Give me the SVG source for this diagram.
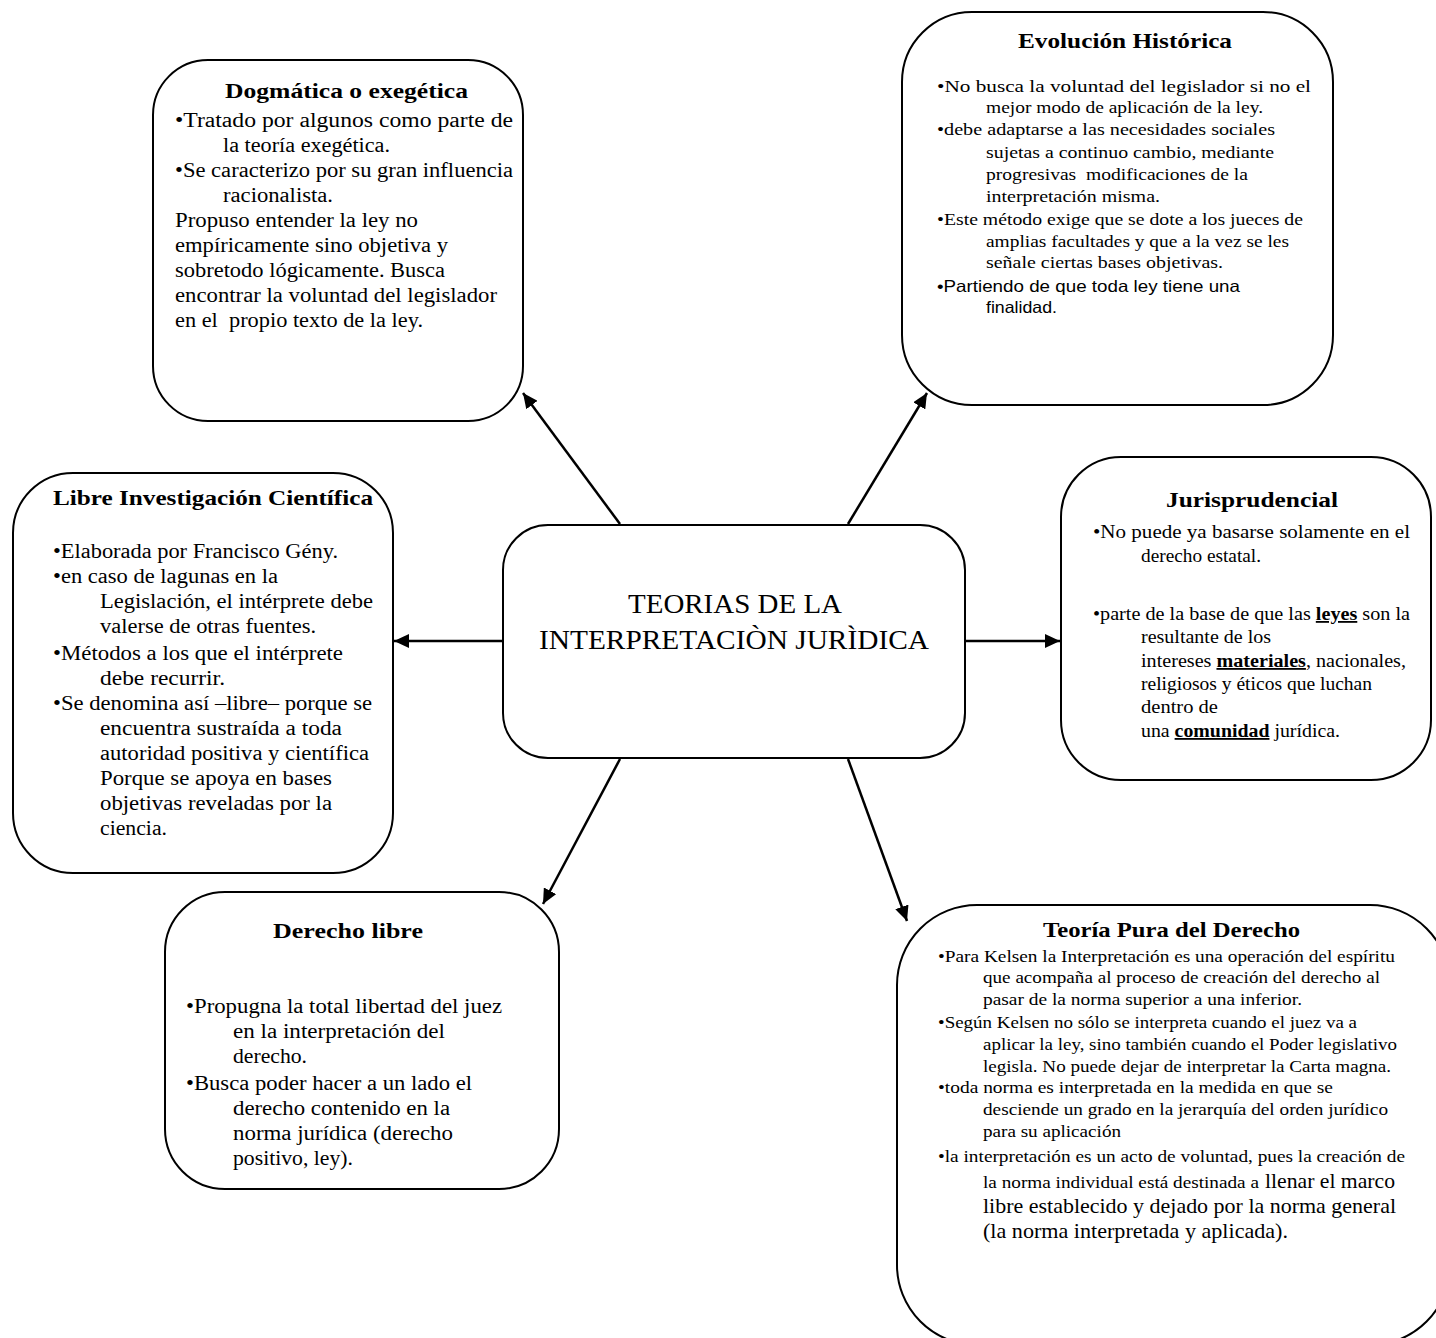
<svg xmlns="http://www.w3.org/2000/svg" width="1436" height="1338" viewBox="0 0 1436 1338">
<style>
.box{fill:#fff;stroke:#000;stroke-width:2}
.t{font-family:"Liberation Serif","Times New Roman",serif;fill:#000}
.h{font-weight:bold;font-size:22px}
.b19{font-size:20px}
.b17{font-size:18px}
.b16{font-size:17.5px}
.s{font-family:"Liberation Sans",Arial,sans-serif;font-size:16.5px;fill:#000}
.c{font-size:28px}
.u{font-weight:bold;text-decoration:underline}
.arr{stroke:#000;stroke-width:2.5;fill:none;marker-end:url(#ah)}
</style>
<defs>
<marker id="ah" markerUnits="userSpaceOnUse" markerWidth="16" markerHeight="14" refX="15" refY="7" orient="auto">
<path d="M0,0 L15,7 L0,14 z" fill="#000"/>
</marker>
</defs>
<rect width="1436" height="1338" fill="#fff"/>

<g id="connectors">
<line class="arr" x1="620" y1="524" x2="523" y2="393"/>
<line class="arr" x1="848" y1="524" x2="927" y2="393"/>
<line class="arr" x1="503" y1="641" x2="394" y2="641"/>
<line class="arr" x1="965" y1="641" x2="1060" y2="641"/>
<line class="arr" x1="620" y1="759" x2="543" y2="904"/>
<line class="arr" x1="848" y1="759" x2="907" y2="921"/>
</g>

<g id="center">
<rect class="box" x="503" y="525" width="462" height="233" rx="45"/>
<text class="t c" x="628" y="613" textLength="214" lengthAdjust="spacingAndGlyphs">TEORIAS DE LA</text>
<text class="t c" x="539" y="649" textLength="390" lengthAdjust="spacingAndGlyphs">INTERPRETACIÒN JURÌDICA</text>
</g>

<g id="dogmatica">
<rect class="box" x="153" y="60" width="370" height="361" rx="55"/>
<text class="t h" x="225" y="98" textLength="243" lengthAdjust="spacingAndGlyphs">Dogmática o exegética</text>
<g class="t b19">
<text x="175" y="127" textLength="338" lengthAdjust="spacingAndGlyphs">•Tratado por algunos como parte de</text>
<text x="223" y="152" textLength="167" lengthAdjust="spacingAndGlyphs">la teoría exegética.</text>
<text x="175" y="177" textLength="338" lengthAdjust="spacingAndGlyphs">•Se caracterizo por su gran influencia</text>
<text x="223" y="202" textLength="110" lengthAdjust="spacingAndGlyphs">racionalista.</text>
<text x="175" y="227" textLength="243" lengthAdjust="spacingAndGlyphs">Propuso entender la ley no</text>
<text x="175" y="252" textLength="273" lengthAdjust="spacingAndGlyphs">empíricamente sino objetiva y</text>
<text x="175" y="277" textLength="270" lengthAdjust="spacingAndGlyphs">sobretodo lógicamente. Busca</text>
<text x="175" y="302" textLength="322" lengthAdjust="spacingAndGlyphs">encontrar la voluntad del legislador</text>
<text x="175" y="327" textLength="248" lengthAdjust="spacingAndGlyphs">en el &#160;propio texto de la ley.</text>
</g>
</g>

<g id="evolucion">
<rect class="box" x="902" y="12" width="431" height="393" rx="70"/>
<text class="t h" x="1018" y="48" textLength="214" lengthAdjust="spacingAndGlyphs">Evolución Histórica</text>
<g class="t b16">
<text x="937" y="92" textLength="374" lengthAdjust="spacingAndGlyphs">•No busca la voluntad del legislador si no el</text>
<text x="986" y="113" textLength="277" lengthAdjust="spacingAndGlyphs">mejor modo de aplicación de la ley.</text>
<text x="937" y="135" textLength="338" lengthAdjust="spacingAndGlyphs">•debe adaptarse a las necesidades sociales</text>
<text x="986" y="158" textLength="288" lengthAdjust="spacingAndGlyphs">sujetas a continuo cambio, mediante</text>
<text x="986" y="180" textLength="262" lengthAdjust="spacingAndGlyphs">progresivas &#160;modificaciones de la</text>
<text x="986" y="202" textLength="174" lengthAdjust="spacingAndGlyphs">interpretación misma.</text>
<text x="937" y="225" textLength="366" lengthAdjust="spacingAndGlyphs">•Este método exige que se dote a los jueces de</text>
<text x="986" y="247" textLength="303" lengthAdjust="spacingAndGlyphs">amplias facultades y que a la vez se les</text>
<text x="986" y="268" textLength="237" lengthAdjust="spacingAndGlyphs">señale ciertas bases objetivas.</text>
</g>
<text class="s" x="937" y="292" textLength="303" lengthAdjust="spacingAndGlyphs">•Partiendo de que toda ley tiene una</text>
<text class="s" x="986" y="313" textLength="71" lengthAdjust="spacingAndGlyphs">finalidad.</text>
</g>

<g id="libre-investigacion">
<rect class="box" x="13" y="473" width="380" height="400" rx="60"/>
<text class="t h" x="53" y="505" textLength="320" lengthAdjust="spacingAndGlyphs">Libre Investigación Científica</text>
<g class="t b19">
<text x="53" y="558" textLength="285" lengthAdjust="spacingAndGlyphs">•Elaborada por Francisco Gény.</text>
<text x="53" y="583" textLength="225" lengthAdjust="spacingAndGlyphs">•en caso de lagunas en la</text>
<text x="100" y="608" textLength="273" lengthAdjust="spacingAndGlyphs">Legislación, el intérprete debe</text>
<text x="100" y="633" textLength="216" lengthAdjust="spacingAndGlyphs">valerse de otras fuentes.</text>
<text x="53" y="660" textLength="290" lengthAdjust="spacingAndGlyphs">•Métodos a los que el intérprete</text>
<text x="100" y="685" textLength="125" lengthAdjust="spacingAndGlyphs">debe recurrir.</text>
<text x="53" y="710" textLength="319" lengthAdjust="spacingAndGlyphs">•Se denomina así –libre– porque se</text>
<text x="100" y="735" textLength="242" lengthAdjust="spacingAndGlyphs">encuentra sustraída a toda</text>
<text x="100" y="760" textLength="269" lengthAdjust="spacingAndGlyphs">autoridad positiva y científica</text>
<text x="100" y="785" textLength="232" lengthAdjust="spacingAndGlyphs">Porque se apoya en bases</text>
<text x="100" y="810" textLength="232" lengthAdjust="spacingAndGlyphs">objetivas reveladas por la</text>
<text x="100" y="835" textLength="67" lengthAdjust="spacingAndGlyphs">ciencia.</text>
</g>
</g>

<g id="jurisprudencial">
<rect class="box" x="1061" y="457" width="370" height="323" rx="60"/>
<text class="t h" x="1166" y="507" textLength="172" lengthAdjust="spacingAndGlyphs">Jurisprudencial</text>
<g class="t b17">
<text x="1093" y="538" textLength="317" lengthAdjust="spacingAndGlyphs">•No puede ya basarse solamente en el</text>
<text x="1141" y="562" textLength="120" lengthAdjust="spacingAndGlyphs">derecho estatal.</text>
<text x="1093" y="620" textLength="317" lengthAdjust="spacingAndGlyphs">•parte de la base de que las <tspan class="u">leyes</tspan> son la</text>
<text x="1141" y="643" textLength="130" lengthAdjust="spacingAndGlyphs">resultante de los</text>
<text x="1141" y="667" textLength="265" lengthAdjust="spacingAndGlyphs">intereses <tspan class="u">materiales</tspan>, nacionales,</text>
<text x="1141" y="690" textLength="231" lengthAdjust="spacingAndGlyphs">religiosos y éticos que luchan</text>
<text x="1141" y="713" textLength="77" lengthAdjust="spacingAndGlyphs">dentro de</text>
<text x="1141" y="737" textLength="199" lengthAdjust="spacingAndGlyphs">una <tspan class="u">comunidad</tspan> jurídica.</text>
</g>
</g>

<g id="derecho-libre">
<rect class="box" x="165" y="892" width="394" height="297" rx="60"/>
<text class="t h" x="273" y="938" textLength="150" lengthAdjust="spacingAndGlyphs">Derecho libre</text>
<g class="t b19">
<text x="186" y="1013" textLength="316" lengthAdjust="spacingAndGlyphs">•Propugna la total libertad del juez</text>
<text x="233" y="1038" textLength="212" lengthAdjust="spacingAndGlyphs">en la interpretación del</text>
<text x="233" y="1063" textLength="74" lengthAdjust="spacingAndGlyphs">derecho.</text>
<text x="186" y="1090" textLength="286" lengthAdjust="spacingAndGlyphs">•Busca poder hacer a un lado el</text>
<text x="233" y="1115" textLength="217" lengthAdjust="spacingAndGlyphs">derecho contenido en la</text>
<text x="233" y="1140" textLength="220" lengthAdjust="spacingAndGlyphs">norma jurídica (derecho</text>
<text x="233" y="1165" textLength="120" lengthAdjust="spacingAndGlyphs">positivo, ley).</text>
</g>
</g>

<g id="teoria-pura">
<rect class="box" x="897" y="905" width="553" height="440" rx="80"/>
<text class="t h" x="1043" y="937" textLength="257" lengthAdjust="spacingAndGlyphs">Teoría Pura del Derecho</text>
<g class="t" font-size="17">
<text x="938" y="962" textLength="457" lengthAdjust="spacingAndGlyphs">•Para Kelsen la Interpretación es una operación del espíritu</text>
<text x="983" y="983" textLength="397" lengthAdjust="spacingAndGlyphs">que acompaña al proceso de creación del derecho al</text>
<text x="983" y="1005" textLength="319" lengthAdjust="spacingAndGlyphs">pasar de la norma superior a una inferior.</text>
<text x="938" y="1028" textLength="419" lengthAdjust="spacingAndGlyphs">•Según Kelsen no sólo se interpreta cuando el juez va a</text>
<text x="983" y="1050" textLength="414" lengthAdjust="spacingAndGlyphs">aplicar la ley, sino también cuando el Poder legislativo</text>
<text x="983" y="1072" textLength="408" lengthAdjust="spacingAndGlyphs">legisla. No puede dejar de interpretar la Carta magna.</text>
<text x="938" y="1093" textLength="395" lengthAdjust="spacingAndGlyphs">•toda norma es interpretada en la medida en que se</text>
<text x="983" y="1115" textLength="405" lengthAdjust="spacingAndGlyphs">desciende un grado en la jerarquía del orden jurídico</text>
<text x="983" y="1137" textLength="138" lengthAdjust="spacingAndGlyphs">para su aplicación</text>
<text x="938" y="1162" textLength="467" lengthAdjust="spacingAndGlyphs">•la interpretación es un acto de voluntad, pues la creación de</text>
<text x="983" y="1188"><tspan textLength="276" lengthAdjust="spacingAndGlyphs">la norma individual está destinada a</tspan><tspan x="1265" font-size="21" textLength="130" lengthAdjust="spacingAndGlyphs">llenar el marco</tspan></text>
<text x="983" y="1213" font-size="21" textLength="413" lengthAdjust="spacingAndGlyphs">libre establecido y dejado por la norma general</text>
<text x="983" y="1238" font-size="21" textLength="305" lengthAdjust="spacingAndGlyphs">(la norma interpretada y aplicada).</text>
</g>
</g>
</svg>
